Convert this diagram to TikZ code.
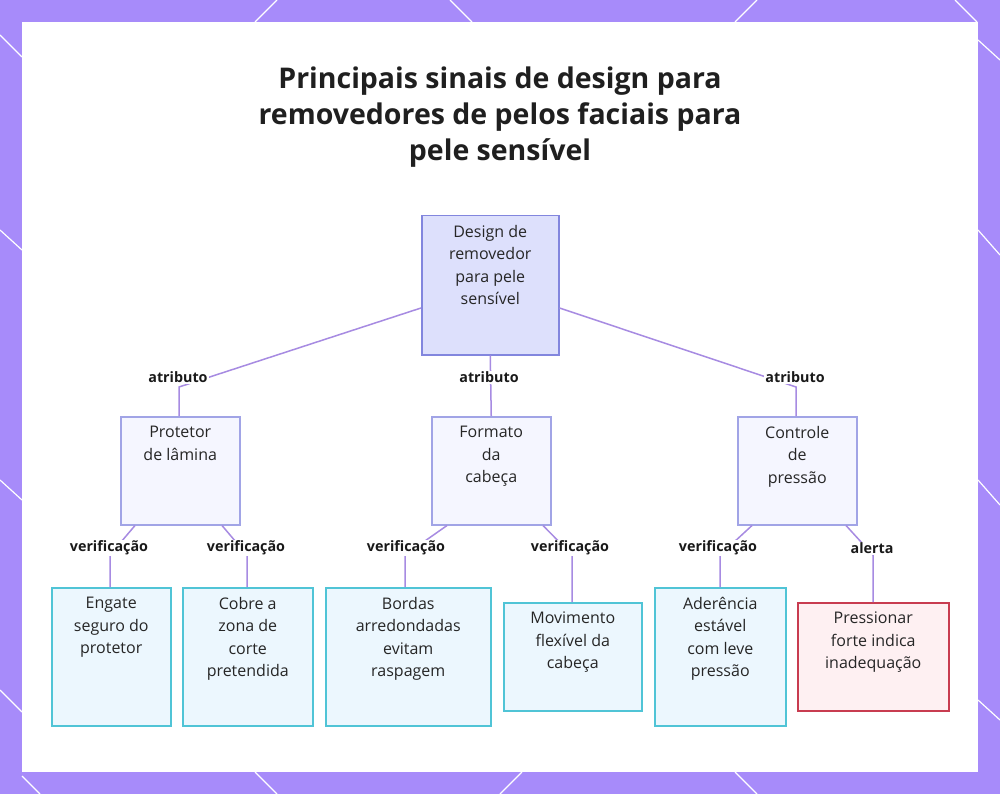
\documentclass[tikz,border=0pt]{standalone}
\usepackage{fontspec}
\setmainfont{Open Sans}
\begin{document}
\begin{tikzpicture}[x=1pt,y=-1pt,
 box/.style={draw=#1, line width=1.5pt, anchor=north west, inner sep=0pt},
 txt/.style={anchor=north, align=center, font=\fontsize{16}{22.5}\selectfont, text=black!85, inner sep=0pt},
 lab/.style={font=\bfseries\fontsize{14.3}{16}\selectfont, fill=white, inner sep=1pt, text=black!90},
 con/.style={line width=1.5pt, color={rgb,255:red,167;green,139;blue,226}}]
\definecolor{frame}{RGB}{167,139,250}
\definecolor{rootf}{RGB}{221,224,252}
\definecolor{rootd}{RGB}{130,134,222}
\definecolor{midf}{RGB}{245,246,255}
\definecolor{leaff}{RGB}{236,247,254}
\definecolor{leafd}{RGB}{80,196,214}
\definecolor{redf}{RGB}{254,240,242}
\definecolor{redd}{RGB}{200,60,80}
\useasboundingbox (0,0) rectangle (1000,794);
\fill[frame] (0,0) rectangle (1000,794);
\fill[white] (22,22) rectangle (978,772);
\foreach \a/\b/\c/\d in {0/35/22/57, 255/22/277/0, 450/0/472/22, 735/22/757/0, 955/0/977/22, 978/40/1000/60, 0/230/22/250, 978/230/1000/255, 0/480/22/500, 978/480/1000/505, 0/690/22/712, 978/700/1000/720, 255/772/277/794, 500/794/522/772, 735/772/757/794, 40/794/22/776}
  \draw[white, line width=1.2pt] (\a,\b) -- (\c,\d);
\node[font=\bfseries\fontsize{28.5}{36}\selectfont, align=center, text=black!88] (title) at (500,117) {Principais sinais de design para\\removedores de pelos faciais para\\pele sensível};
% root
\node[box=rootd, fill=rootf, minimum width=137pt, minimum height=139pt] (root) at (421,215) {};
\node[txt] at ([yshift=-10pt]root.north) {Design de\\removedor\\para pele\\sensível};
% level 2
\foreach \n/\x/\t in {prot/120/{Protetor\\de lâmina}, form/431/{Formato\\da\\cabeça}, ctrl/737/{Controle\\de\\pressão}}{
  \node[box=rootd!75, fill=midf, minimum width=119pt, minimum height=108pt] (\n) at (\x,416) {};
  \node[txt] at ([yshift=-10pt]\n.north) {\t};
}
% level 3
\node[box=leafd, fill=leaff, minimum width=119pt, minimum height=138pt] (eng) at (51,587) {};
\node[txt] at ([yshift=-10pt]eng.north) {Engate\\seguro do\\protetor};
\node[box=leafd, fill=leaff, minimum width=130pt, minimum height=138pt] (cob) at (182,587) {};
\node[txt] at ([yshift=-10pt]cob.north) {Cobre a\\zona de\\corte\\pretendida};
\node[box=leafd, fill=leaff, minimum width=165pt, minimum height=138pt] (bor) at (325,587) {};
\node[txt] at ([yshift=-10pt]bor.north) {Bordas\\arredondadas\\evitam\\raspagem};
\node[box=leafd, fill=leaff, minimum width=138pt, minimum height=108pt] (mov) at (503,602) {};
\node[txt] at ([yshift=-10pt]mov.north) {Movimento\\flexível da\\cabeça};
\node[box=leafd, fill=leaff, minimum width=131pt, minimum height=138pt] (ade) at (654,587) {};
\node[txt] at ([yshift=-10pt]ade.north) {Aderência\\estável\\com leve\\pressão};
\node[box=redd, fill=redf, minimum width=151pt, minimum height=108pt] (pre) at (797,602) {};
\node[txt] at ([yshift=-10pt]pre.north) {Pressionar\\forte indica\\inadequação};
% connectors
\draw[con] (root.west |- 0,308) -- (179,387) -- (prot.north -| 179,0);
\draw[con] (root.south) -- (form.north);
\draw[con] (root.east |- 0,308) -- (796,387) -- (ctrl.north -| 796,0);
\draw[con] (prot.south -| 135,0) -- (110,555) -- (eng.north -| 110,0);
\draw[con] (prot.south -| 222,0) -- (247,555) -- (cob.north -| 247,0);
\draw[con] (form.south -| 447,0) -- (405,555) -- (bor.north -| 405,0);
\draw[con] (form.south -| 543,0) -- (572,555) -- (mov.north -| 572,0);
\draw[con] (ctrl.south -| 752,0) -- (720,555) -- (ade.north -| 720,0);
\draw[con] (ctrl.south -| 846,0) -- (873,555) -- (pre.north -| 873,0);
\node[lab] (l1) at (178,377) {atributo};
\node[lab] (l2) at (489,377) {atributo};
\node[lab] (l3) at (795,377) {atributo};
\node[lab] (l4) at (109,548) {verificação};
\node[lab] (l5) at (246,548) {verificação};
\node[lab] (l6) at (406,548) {verificação};
\node[lab] (l7) at (570,548) {verificação};
\node[lab] (l8) at (718,548) {verificação};
\node[lab] (l9) at (872,548) {alerta};
\end{tikzpicture}
\end{document}
